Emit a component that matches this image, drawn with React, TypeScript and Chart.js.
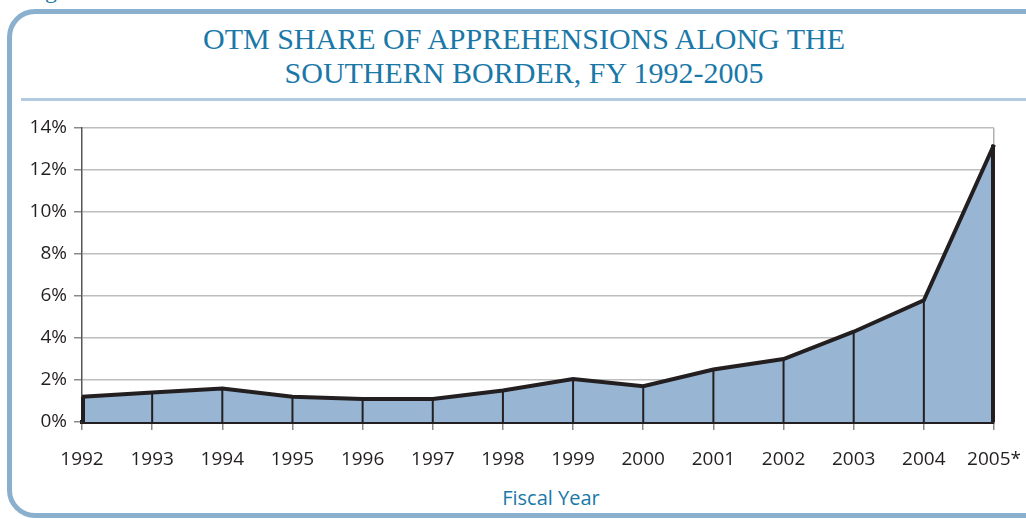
import React, { useEffect, useRef } from "react";
import { Chart, registerables } from "chart.js";

Chart.register(...registerables);

const years = ["1992", "1993", "1994", "1995", "1996", "1997", "1998", "1999", "2000", "2001", "2002", "2003", "2004", "2005*"];
const otmShare = [1.2, 1.4, 1.6, 1.2, 1.1, 1.1, 1.5, 2.05, 1.7, 2.5, 3.0, 4.3, 5.8, 13.2];
const titleLines = ["OTM SHARE OF APPREHENSIONS ALONG THE", "SOUTHERN BORDER, FY 1992-2005"];
const xTitle = "Fiscal Year";
const captionAbove = "Figure";

const INK = "#231f20";
const BLUE_TEXT = "#1a78a8";
const FRAME = "#8ab0ce";

const dropLines = {
  id: "dropLines",
  afterDatasetsDraw(chart: any) {
    const meta = chart.getDatasetMeta(0);
    const y0 = chart.scales.y.getPixelForValue(0);
    const ctx = chart.ctx;
    const n = meta.data.length;
    ctx.save();
    ctx.strokeStyle = INK;
    meta.data.forEach((el: any, i: number) => {
      const edge = i === 0 || i === n - 1;
      ctx.lineWidth = edge ? 4 : 2;
      const x = i === 0 ? el.x + 1 : i === n - 1 ? el.x - 1 : el.x;
      ctx.beginPath();
      ctx.moveTo(x, el.y);
      ctx.lineTo(x, y0);
      ctx.stroke();
    });
    ctx.restore();
  },
};

export default function App() {
  const ref = useRef<HTMLCanvasElement | null>(null);
  useEffect(() => {
    if (!ref.current) return;
    const last = years.length - 1;
    const chart = new Chart(ref.current, {
      type: "line",
      data: {
        labels: years,
        datasets: [
          {
            data: otmShare,
            fill: "origin",
            backgroundColor: "#98b6d3",
            borderColor: INK,
            borderWidth: 4,
            borderJoinStyle: "miter",
            pointRadius: 0,
            tension: 0,
          },
        ],
      },
      options: {
        responsive: false,
        devicePixelRatio: 1,
        animation: false,
        layout: { padding: { left: 0, right: 32, top: 128, bottom: 0 } },
        plugins: { legend: { display: false }, tooltip: { enabled: false }, title: { display: false } },
        scales: {
          x: {
            type: "category",
            offset: false,
            afterFit(scale: any) {
              scale.height = 97;
              scale.paddingLeft = 0;
              scale.paddingRight = 0;
            },
            grid: {
              color: (c: any) => (c.index === last ? "#b0b0b0" : "rgba(0,0,0,0)"),
              lineWidth: 1.5,
              tickLength: 8,
              tickColor: "#8a8a8a",
              tickWidth: 1.5,
              drawOnChartArea: true,
            },
            border: { display: true, color: INK, width: 4 },
            ticks: {
              color: INK,
              font: { family: "'Open Sans'", size: 19 },
              padding: 18,
              maxRotation: 0,
              autoSkip: false,
            },
          },
          y: {
            min: 0,
            max: 14,
            afterFit(scale: any) {
              scale.width = 82;
            },
            grid: {
              color: "#bdbdbd",
              lineWidth: 1.5,
              tickLength: 8,
              tickColor: "#8a8a8a",
              tickWidth: 1.5,
            },
            border: { display: true, color: "#555", width: 1.5 },
            ticks: {
              stepSize: 2,
              color: INK,
              font: { family: "'Open Sans'", size: 19 },
              padding: 7,
              callback: (v: any) => v + "%",
            },
          },
        },
      },
      plugins: [dropLines],
    });
    return () => chart.destroy();
  }, []);

  return (
    <div style={{ position: "fixed", left: 0, top: 0, width: 1026, height: 519, overflow: "hidden", background: "#fff" }}>
      <div
        style={{
          position: "absolute",
          left: 25,
          top: -22,
          fontFamily: "'Liberation Serif', serif",
          fontSize: 24,
          lineHeight: "24px",
          color: BLUE_TEXT,
          whiteSpace: "nowrap",
        }}
      >
        {captionAbove}
      </div>
      <div
        style={{
          position: "absolute",
          left: 7,
          top: 9,
          width: 1045,
          height: 509,
          border: `5px solid ${FRAME}`,
          borderRadius: 28,
          boxSizing: "border-box",
        }}
      />
      <div
        style={{ position: "absolute", left: 21, top: 98, width: 1020, height: 3, background: "#b3cbe0" }}
      />
      <div
        style={{
          position: "absolute",
          left: 0,
          width: 1048,
          top: 22,
          textAlign: "center",
          fontFamily: "'Liberation Serif', serif",
          fontSize: 30,
          lineHeight: "34px",
          color: BLUE_TEXT,
        }}
      >
        {titleLines.map((t) => (
          <div key={t}>{t}</div>
        ))}
      </div>
      <div
        style={{
          position: "absolute",
          left: 451,
          width: 200,
          top: 484,
          textAlign: "center",
          fontFamily: "'Open Sans', sans-serif",
          fontSize: 20,
          lineHeight: "28px",
          color: BLUE_TEXT,
        }}
      >
        {xTitle}
      </div>
      <canvas ref={ref} width={1026} height={519} style={{ position: "absolute", left: 0, top: 0 }} />
    </div>
  );
}
